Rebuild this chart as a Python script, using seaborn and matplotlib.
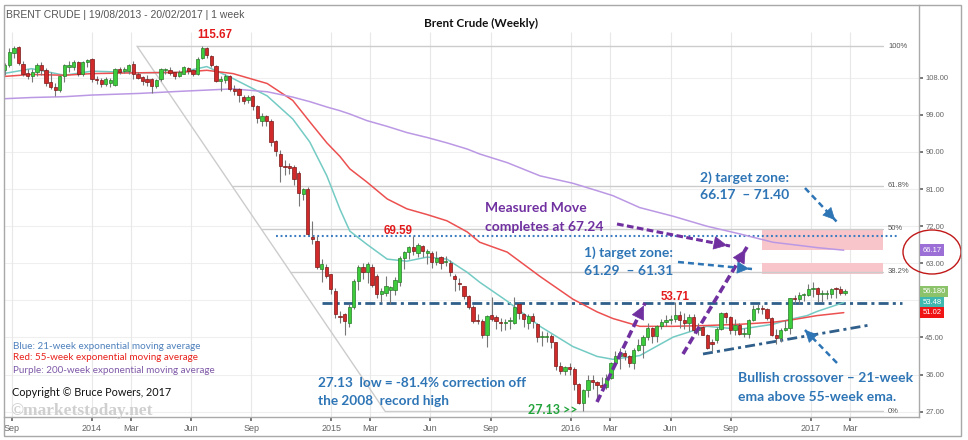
import matplotlib
matplotlib.use("Agg")
import matplotlib.pyplot as plt
import matplotlib.dates as mdates
import matplotlib.transforms as mtransforms
from matplotlib.lines import Line2D
from matplotlib.patches import Rectangle, Ellipse, FancyArrowPatch
import numpy as np
import pandas as pd
import seaborn as sns

# ---- weekly Brent candles, week of 19/08/2013 .. week of 20/02/2017 ----
first_week = "2013-08-19"
opens = [
    # 2013
    109.9, 111.0, 114.0, 115.5, 111.4, 109.1, 108.4, 109.3, 111.2, 109.8,
    106.9, 105.7, 105.0, 108.4, 110.5, 110.6, 111.9, 108.8, 111.7, 112.6,
    # 2014
    107.8, 107.4, 106.4, 106.8, 106.2, 110.2, 109.6, 109.6, 111.4, 108.8,
    108.2, 107.8, 107.6, 105.9, 107.8, 109.9, 109.9, 109.3, 108.5, 109.0,
    110.4, 109.8, 109.0, 112.9, 115.3, 113.2, 110.8, 107.3, 107.4, 108.4,
    105.2, 105.3, 103.3, 102.6, 103.6, 101.2, 97.6, 98.8, 97.6, 92.7,
    89.6, 86.6, 86.4, 86.4, 84.9, 79.8, 81.0, 69.3, 68.4, 61.5, 62.0, 60.3,
    # 2015
    56.2, 50.2, 50.6, 48.6, 52.5, 58.6, 62.0, 60.8, 62.2, 59.8,
    55.5, 55.8, 56.5, 56.5, 58.4, 64.2, 65.7, 66.9, 65.5, 67.3,
    65.6, 65.6, 63.2, 64.4, 63.2, 63.0, 60.0, 58.2, 57.4, 55.0,
    52.3, 49.0, 48.9, 45.7, 50.4, 49.9, 48.6, 48.4, 48.9, 48.6,
    53.0, 50.6, 48.6, 50.3, 48.2, 45.0, 45.0, 45.3, 43.8, 38.0, 36.8, 37.9,
    # 2016
    37.3, 33.6, 29.0, 32.2, 34.7, 34.1, 33.4, 33.0, 35.1, 38.7,
    40.4, 41.2, 40.4, 38.7, 41.9, 43.1, 45.1, 47.4, 45.4, 47.8,
    48.7, 49.3, 49.6, 50.5, 49.2, 48.4, 50.0, 46.8, 47.6, 45.7,
    43.9, 44.3, 47.0, 50.9, 49.9, 46.8, 48.0, 45.8, 45.9, 49.2,
    51.9, 52.0, 51.8, 49.7, 45.6, 44.8, 46.9, 47.2, 54.5, 54.3, 55.2, 55.2,
    # 2017
    56.8, 57.1, 55.5, 55.5, 55.5, 56.8, 56.7, 55.8,
]
highs = [
    111.6, 115.3, 115.6, 115.6, 112.1, 110.0, 110.1, 111.5, 111.8, 110.3,
    109.4, 106.6, 108.6, 111.4, 112.0, 112.3, 112.1, 112.0, 112.6, 112.9,
    108.3, 107.9, 108.2, 108.0, 110.4, 110.6, 110.6, 111.3, 112.0, 109.3,
    108.4, 108.6, 108.0, 107.8, 110.4, 110.3, 110.6, 109.5, 109.9, 110.9,
    110.6, 110.0, 113.0, 115.67, 115.5, 113.5, 111.0, 108.4, 108.9, 108.6,
    106.3, 105.6, 103.7, 103.9, 103.8, 101.5, 99.4, 99.0, 97.9, 93.0,
    90.4, 88.0, 87.2, 86.8, 85.4, 81.2, 81.4, 73.2, 69.5, 64.0, 62.8, 60.5,
    57.0, 51.3, 50.9, 53.2, 59.1, 62.5, 63.0, 63.3, 62.9, 60.5,
    57.0, 59.8, 57.6, 59.7, 64.8, 66.0, 67.3, 69.59, 67.9, 67.5,
    66.4, 65.9, 66.0, 64.7, 64.8, 63.8, 60.3, 59.5, 57.6, 55.3,
    52.8, 50.7, 49.6, 50.4, 54.7, 50.5, 49.7, 49.5, 49.9, 54.7,
    53.3, 51.0, 50.6, 50.9, 48.6, 46.5, 46.3, 45.8, 44.0, 39.0, 38.0, 38.9,
    37.9, 34.0, 32.4, 36.0, 36.0, 34.5, 35.5, 36.2, 39.0, 41.6,
    42.5, 42.0, 40.8, 42.5, 44.7, 45.7, 48.5, 47.5, 48.1, 49.5,
    50.5, 50.5, 53.71, 51.4, 51.0, 50.8, 50.6, 48.5, 47.8, 45.8,
    44.6, 47.6, 51.2, 51.2, 50.2, 49.6, 48.5, 47.3, 49.4, 52.8,
    53.2, 52.8, 52.1, 49.9, 47.0, 47.3, 49.2, 54.5, 55.3, 56.0, 55.7, 57.9,
    58.4, 57.2, 56.4, 56.4, 57.1, 57.3, 57.5, 56.8,
]
lows = [
    108.6, 110.6, 112.9, 111.0, 108.3, 107.6, 106.9, 108.4, 108.6, 106.1,
    105.3, 103.6, 104.5, 107.0, 109.4, 109.8, 108.4, 108.3, 110.6, 107.0,
    106.4, 105.8, 106.1, 105.8, 105.9, 108.8, 109.2, 108.9, 107.8, 107.6,
    106.3, 105.9, 104.4, 105.6, 107.3, 108.9, 108.6, 107.8, 108.1, 108.8,
    108.9, 108.4, 108.6, 112.6, 112.9, 110.5, 106.9, 104.8, 106.6, 104.9,
    103.9, 102.0, 101.6, 101.8, 100.2, 97.0, 96.3, 96.2, 91.5, 88.9,
    82.6, 84.5, 84.6, 82.1, 77.0, 78.4, 69.8, 67.6, 61.5, 58.5, 59.4, 55.6,
    49.7, 48.5, 45.7, 47.6, 52.0, 56.5, 59.2, 58.2, 57.2, 54.6,
    53.5, 55.0, 53.0, 55.4, 57.4, 61.5, 64.0, 65.0, 64.6, 64.4,
    62.8, 61.8, 62.5, 61.6, 62.4, 59.8, 56.2, 56.6, 54.3, 51.9,
    48.5, 48.2, 44.9, 42.8, 49.0, 47.0, 46.6, 46.8, 47.1, 48.2,
    49.6, 47.5, 47.0, 47.2, 44.0, 43.0, 44.0, 42.5, 37.2, 36.1, 36.0, 35.9,
    32.2, 28.8, 27.13, 30.6, 32.6, 30.0, 32.3, 32.4, 35.0, 38.0,
    37.3, 39.6, 37.8, 37.3, 41.6, 40.1, 44.5, 43.6, 44.0, 47.0,
    47.8, 48.2, 48.7, 47.3, 47.0, 46.6, 46.2, 45.7, 45.6, 42.3,
    41.6, 43.6, 46.8, 48.5, 45.8, 45.6, 45.6, 45.2, 44.8, 48.9,
    51.0, 50.6, 49.3, 45.4, 43.3, 43.9, 46.5, 45.9, 53.0, 53.0, 53.9, 55.0,
    54.9, 53.6, 53.6, 54.4, 54.6, 54.6, 55.2, 55.4,
]
closes = [
    111.0, 114.2, 115.3, 111.5, 109.0, 108.4, 109.3, 111.1, 109.8, 106.8,
    105.7, 105.0, 108.4, 111.0, 111.2, 111.9, 108.8, 111.7, 112.4, 107.8,
    107.4, 106.4, 107.6, 107.5, 110.1, 109.5, 110.0, 111.0, 108.8, 108.0,
    107.2, 106.9, 105.9, 107.4, 110.0, 109.9, 109.1, 108.3, 109.3, 110.5,
    109.6, 109.0, 112.6, 115.1, 113.4, 111.0, 107.2, 107.4, 108.3, 105.3,
    104.9, 103.7, 102.4, 103.4, 101.2, 98.3, 98.8, 97.6, 92.5, 90.3,
    86.6, 86.4, 86.2, 83.4, 80.0, 81.0, 70.2, 68.9, 62.0, 62.7, 59.8, 56.7,
    50.6, 50.0, 48.9, 52.5, 58.6, 62.0, 61.0, 62.7, 57.8, 55.5,
    56.3, 57.5, 57.2, 58.9, 64.2, 65.7, 66.9, 65.9, 67.5, 65.9,
    65.6, 63.2, 64.3, 63.1, 63.2, 60.8, 59.2, 57.9, 55.0, 52.3,
    48.9, 48.9, 45.7, 50.1, 49.4, 48.9, 48.4, 48.6, 48.9, 52.3,
    51.0, 49.4, 50.2, 49.0, 45.0, 45.0, 45.2, 43.8, 38.0, 36.8, 37.9, 37.3,
    33.6, 29.0, 32.2, 34.7, 34.1, 33.4, 33.0, 35.1, 38.7, 40.4,
    41.2, 40.4, 38.7, 41.9, 43.1, 45.1, 47.4, 45.4, 47.8, 48.7,
    49.3, 49.6, 50.5, 49.2, 48.4, 50.0, 46.8, 47.6, 45.7, 42.5,
    43.4, 47.0, 50.9, 49.9, 46.8, 48.0, 45.8, 45.9, 49.2, 51.9,
    52.0, 51.8, 49.7, 45.6, 44.8, 46.9, 47.2, 54.5, 54.3, 55.2, 55.2, 56.8,
    57.1, 55.5, 55.5, 55.5, 56.8, 56.7, 55.8, 56.18,
]

# ---- exponential moving averages ----
ema_dates = [
    "2013-08-19", "2013-10-01", "2013-11-20", "2014-01-01", "2014-03-15",
    "2014-05-15", "2014-06-25", "2014-08-04", "2014-09-25", "2014-11-03",
    "2014-11-29", "2014-12-25", "2015-01-14", "2015-01-29", "2015-02-24",
    "2015-03-27", "2015-04-26", "2015-05-27", "2015-06-26", "2015-07-27",
    "2015-08-15", "2015-09-26", "2015-11-15", "2016-01-04", "2016-02-10",
    "2016-03-05", "2016-04-15", "2016-06-05", "2016-07-26", "2016-09-15",
    "2016-11-04", "2016-11-30", "2016-12-26", "2017-01-10", "2017-02-20",
]
ema21 = [109.0, 110.2, 108.6, 109.6, 109.2, 109.3, 110.7, 107.8, 103.6, 98.0,
         92.4, 84.2, 76.1, 70.8, 67.6, 64.0, 63.5, 64.5, 64.0, 60.8,
         58.4, 53.8, 47.7, 42.8, 40.4, 39.7, 40.6, 45.1, 47.7, 47.0,
         48.2, 49.4, 50.3, 51.3, 53.48]
ema55 = [108.3, 108.8, 108.6, 109.0, 109.2, 109.3, 109.8, 109.0, 106.6, 102.5,
         97.3, 92.2, 88.9, 85.9, 82.7, 78.6, 76.2, 74.8, 73.3, 70.6,
         68.1, 65.7, 59.8, 54.3, 51.2, 49.6, 47.7, 47.7, 47.9, 48.2,
         48.7, 49.2, 49.9, 50.3, 51.02]
ema200 = [102.9, 103.2, 103.4, 103.8, 104.2, 104.7, 105.0, 105.3, 104.6, 103.3,
          102.2, 100.9, 100.0, 99.2, 97.6, 96.2, 94.7, 93.5, 92.2, 90.7,
          89.5, 87.4, 84.2, 82.4, 80.6, 79.4, 76.5, 74.4, 72.0, 70.1,
          68.1, 67.6, 67.1, 66.8, 66.17]

# levels
fib_high = 115.67
fib_low = 27.13
fib_ratios = [1.0, 0.618, 0.5, 0.382, 0.0]
fib_names = ["100%", "61.8%", "50%", "38.2%", "0%"]
high_2015 = 69.59
resistance = 53.3
zone1 = (60.5, 63.1)
zone2 = (66.17, 71.40)

yticks = [27, 36, 45, 63, 72, 81, 90, 99, 108]
xtick_dates = ["2013-09-01", "2014-01-01", "2014-03-01", "2014-06-01", "2014-09-01",
               "2015-01-01", "2015-03-01", "2015-06-01", "2015-09-01",
               "2016-01-01", "2016-03-01", "2016-06-01", "2016-09-01",
               "2017-01-01", "2017-03-01"]
xtick_labels = ["Sep", "2014", "Mar", "Jun", "Sep", "2015", "Mar", "Jun", "Sep",
                "2016", "Mar", "Jun", "Sep", "2017", "Mar"]

# ---------------------------------------------------------------
sns.set_theme(style="white")
plt.rcParams['font.family'] = ['Liberation Sans', 'DejaVu Sans']
ann_font = ['Lato', 'DejaVu Sans']

W, H = 968, 440
fig = plt.figure(figsize=(W / 100, H / 100), dpi=100)
fx = lambda px: px / W
fy = lambda py: 1 - py / H

ax = fig.add_axes([fx(4), fy(417), (919 - 4) / W, (417 - 5) / H])

d2014 = mdates.date2num(pd.Timestamp("2014-01-01"))
ppd = 0.656  # pixels per day
px_date = lambda px: d2014 + (px - 92) / ppd
ax.set_xlim(px_date(4), px_date(919))
ax.set_ylim(25.71, 125.64)
price_at = lambda py: 27 + (411.7 - py) / 4.123

# grid
for v in range(27, 109, 9):
    ax.axhline(v, color='#efefef', lw=0.8, zorder=0)
xt = mdates.date2num(pd.to_datetime(xtick_dates))
ax.vlines(xt, 25.71, price_at(32), color='#e8e8e8', lw=0.8, zorder=0)

# target zones
for lo, hi in (zone1, zone2):
    ax.add_patch(Rectangle((px_date(762), lo), px_date(883) - px_date(762), hi - lo,
                           facecolor='#f8c6ca', edgecolor='none', zorder=1))

# fibonacci retracement
da, db = px_date(137), px_date(385)
ax.plot([da, db], [fib_high, fib_low], color='#cccccc', lw=1, zorder=1)
for r, name in zip(fib_ratios, fib_names):
    lvl = fib_low + r * (fib_high - fib_low)
    xs = da + (1 - r) * (db - da)
    ax.plot([xs, px_date(883)], [lvl, lvl], color='#cccccc', lw=1, zorder=1)
    ax.text(px_date(888), lvl, name, fontsize=5.5, color='#555', va='center', ha='left')

# horizontal reference lines
ax.plot([px_date(276), px_date(898)], [high_2015, high_2015], color='#3b7dc0',
        lw=1.5, dashes=(0.9, 1.3), zorder=2)
ax.plot([px_date(322), px_date(902)], [resistance, resistance], color='#2f5f8a',
        lw=2, dashes=(3.6, 1.5, 1.1, 1.5), zorder=2)
ax.plot([px_date(703), px_date(870)], [price_at(354), price_at(325)], color='#2f5f8a',
        lw=2, dashes=(3.6, 1.5, 1.1, 1.5), zorder=2)

# EMAs
ema_x = mdates.date2num(pd.to_datetime(ema_dates))
n = len(ema_x)
ema_df = pd.DataFrame({"x": np.tile(ema_x, 3),
                       "value": ema21 + ema55 + ema200,
                       "ema": ["21"] * n + ["55"] * n + ["200"] * n})
sns.lineplot(data=ema_df, x="x", y="value", hue="ema",
             palette={"21": "#74cbc4", "55": "#ec5050", "200": "#bb98e4"},
             linewidth=1.1, legend=False, ax=ax, zorder=2)
ax.set_xlabel("")
ax.set_ylabel("")

# candles
o, h, l, c = map(np.array, (opens, highs, lows, closes))
wx = mdates.date2num(pd.date_range(first_week, periods=len(c), freq="7D")) + 2
up = c >= o
bottom = np.minimum(o, c)
height = np.maximum(np.abs(c - o), 0.3)
ax.vlines(wx, l, h, color='#777777', lw=0.8, zorder=3)
ax.bar(wx[up], height[up], bottom=bottom[up], width=5, color='#3ccc3c',
       edgecolor='#2a7a2a', linewidth=0.5, zorder=4)
ax.bar(wx[~up], height[~up], bottom=bottom[~up], width=5, color='#d02a2a',
       edgecolor='#7a1818', linewidth=0.5, zorder=4)

# axes styling
ax.yaxis.tick_right()
ax.set_yticks(yticks)
ax.set_yticklabels([f"{v:.2f}" for v in yticks])
ax.set_xticks(xt)
ax.set_xticklabels(xtick_labels)
ax.tick_params(axis='y', length=3, pad=1.5, labelsize=5.5, colors='#666666', direction='out', right=True)
ax.tick_params(axis='x', length=3, pad=2, labelsize=6.5, colors='#666666', direction='out', bottom=True)
for s in ('left', 'top'):
    ax.spines[s].set_visible(False)
for s in ('right', 'bottom'):
    ax.spines[s].set_color('#aaaaaa')
    ax.spines[s].set_linewidth(1)

# price tags on right axis
blend = mtransforms.blended_transform_factory(ax.transAxes, ax.transData)
for val, txt, col in ((ema200[-1], "66.17", '#9b6fd6'), (closes[-1], "56.180", '#8cc26a'),
                      (ema21[-1], "53.48", '#3fb8af'), (ema55[-1], "51.02", '#f01414')):
    ax.text(1.004, val, txt, transform=blend, fontsize=5.5, color='white', va='center',
            ha='left', bbox=dict(boxstyle='square,pad=0.3', fc=col, ec='none'), zorder=6)

# red ellipse round the 66.17 tag
fig.add_artist(Ellipse((fx(932), fy(252)), 58 / W, 44 / H, transform=fig.transFigure,
                       fill=False, edgecolor='#c01818', lw=1))

# outer frame
fig.add_artist(Rectangle((fx(4), fy(436)), (961 - 4) / W, (436 - 5) / H,
                         transform=fig.transFigure, fill=False, edgecolor='#a8a8a8', lw=1))


def dashed_arrow(p1, p2, color, lw, dashes, head=0.9):
    (x1, y1), (x2, y2) = p1, p2
    fig.add_artist(Line2D([fx(x1), fx(x2)], [fy(y1), fy(y2)], transform=fig.transFigure,
                          color=color, lw=lw, dashes=dashes))
    L = np.hypot(x2 - x1, y2 - y1)
    hx, hy = x2 - (x2 - x1) / L * 7, y2 - (y2 - y1) / L * 7
    fig.add_artist(FancyArrowPatch((fx(hx), fy(hy)), (fx(x2), fy(y2)), transform=fig.transFigure,
                                   arrowstyle=f'-|>,head_length={head},head_width={head * 0.5}',
                                   mutation_scale=10, color=color, lw=0.5))


purple = '#7030a0'
blue = '#2e75b6'
dashed_arrow((597, 402), (645, 303), purple, 2.6, (2.2, 1.1))
dashed_arrow((683, 354), (747, 247), purple, 2.6, (2.2, 1.1))
dashed_arrow((617, 224), (730, 246), purple, 2.2, (2.2, 1.1))
dashed_arrow((678, 262), (752, 269), blue, 1.8, (2.4, 1.6), head=0.8)
dashed_arrow((805, 188), (837, 222), blue, 1.8, (2.4, 1.6), head=0.8)
dashed_arrow((837, 363), (803, 328), blue, 1.8, (2.4, 1.6), head=0.8)

# texts
fig.text(fx(6), fy(15), "BRENT CRUDE | 19/08/2013 - 20/02/2017 | 1 week",
         fontsize=7.5, color='#555555', va='center', ha='left')
fig.text(fx(481), fy(23), "Brent Crude (Weekly)", fontsize=8.5, fontweight='bold',
         family=ann_font, color='#111111', va='center', ha='center')
fig.text(fx(215), fy(35), "115.67", fontsize=8.3, fontweight='bold', color='#e31a1c',
         va='center', ha='center')
fig.text(fx(398), fy(231), "69.59", fontsize=8.3, fontweight='bold', color='#e31a1c',
         va='center', ha='center')
fig.text(fx(675), fy(297), "53.71", fontsize=8.3, fontweight='bold', color='#e31a1c',
         va='center', ha='center')
fig.text(fx(553), fy(410), "27.13 >>", fontsize=9, fontweight='bold', family=ann_font,
         color='#21a33a', va='center', ha='center')

fig.text(fx(485), fy(208), "Measured Move", fontsize=10, fontweight='bold',
         family=ann_font, color=purple, va='center', ha='left')
fig.text(fx(485), fy(227), "completes at 67.24", fontsize=10, fontweight='bold',
         family=ann_font, color=purple, va='center', ha='left')
fig.text(fx(584), fy(253), "1) target zone:", fontsize=10, fontweight='bold',
         family=ann_font, color=blue, va='center', ha='left')
fig.text(fx(584), fy(271), "61.29  – 61.31", fontsize=10, fontweight='bold',
         family=ann_font, color=blue, va='center', ha='left')
fig.text(fx(700), fy(178), "2) target zone:", fontsize=10, fontweight='bold',
         family=ann_font, color=blue, va='center', ha='left')
fig.text(fx(700), fy(195), "66.17  – 71.40", fontsize=10, fontweight='bold',
         family=ann_font, color=blue, va='center', ha='left')
fig.text(fx(738), fy(378), "Bullish crossover – 21-week", fontsize=10, fontweight='bold',
         family=ann_font, color=blue, va='center', ha='left')
fig.text(fx(738), fy(397), "ema above 55-week ema.", fontsize=10, fontweight='bold',
         family=ann_font, color=blue, va='center', ha='left')
fig.text(fx(318), fy(383), "27.13  low = -81.4% correction off", fontsize=9.8,
         fontweight='bold', family=ann_font, color=blue, va='center', ha='left')
fig.text(fx(318), fy(401), "the 2008  record high", fontsize=9.8, fontweight='bold',
         family=ann_font, color=blue, va='center', ha='left')

fig.text(fx(13), fy(346), "Blue: 21-week exponential moving average", fontsize=7.1,
         family=ann_font, color='#4f81bd', va='center', ha='left')
fig.text(fx(13), fy(358), "Red: 55-week exponential moving average", fontsize=7.1,
         family=ann_font, color='#e8211b', va='center', ha='left')
fig.text(fx(13), fy(370), "Purple: 200-week exponential moving average", fontsize=7.1,
         family=ann_font, color='#7f5aa8', va='center', ha='left')
fig.text(fx(12), fy(392), "Copyright © Bruce Powers, 2017", fontsize=7.8,
         family=ann_font, color='#111111', va='center', ha='left')
fig.text(fx(10), fy(411), "©marketstoday.net", fontsize=12.5, fontweight='bold',
         family=['Liberation Serif', 'DejaVu Serif'], color='#cfcfcf', va='center', ha='left')

fig.savefig("out.png", dpi=100)
